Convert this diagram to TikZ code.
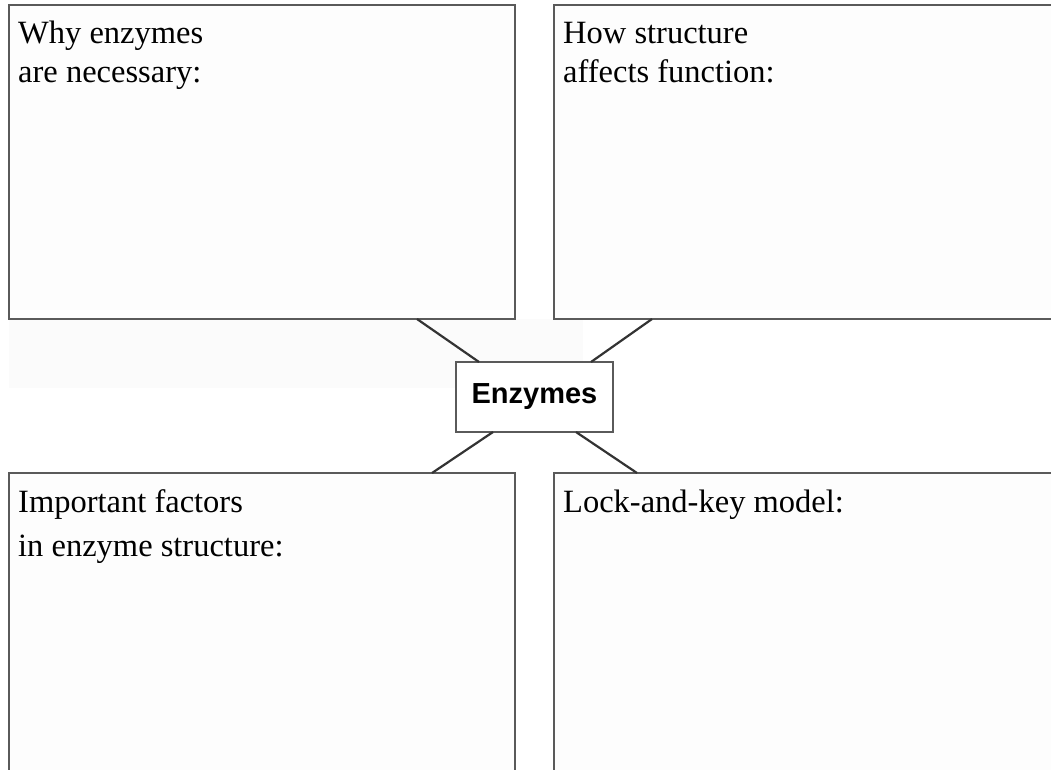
\documentclass[tikz,border=0pt]{standalone}
\usepackage{fontspec}
\setmainfont{Liberation Serif}
\newfontfamily\labsans{Liberation Sans}
\usetikzlibrary{calc}
\definecolor{boxline}{HTML}{5A5A5A}
\definecolor{connline}{HTML}{333333}
\definecolor{boxfill}{HTML}{FDFDFD}
\definecolor{faintbg}{HTML}{FBFBFB}
\tikzset{
  panel/.style={draw=boxline, line width=1.4pt, fill=boxfill, rectangle, inner sep=0pt, outer sep=0pt, anchor=north west},
  lbl/.style={font=\fontsize{32.5}{36}\selectfont, inner sep=0pt, anchor=base west, text=black},
  centre/.style={draw=boxline, line width=1.4pt, fill=white, rectangle, inner sep=0pt, outer sep=0pt, minimum width=157pt, minimum height=70pt, font=\labsans\bfseries\fontsize{29}{32}\selectfont},
  conn/.style={draw=connline, line width=2.2pt}
}
\begin{document}
\begin{tikzpicture}[x=1pt,y=-1pt]
\useasboundingbox (0,0) rectangle (1051,769);
\clip (0,0) rectangle (1051,769);
\fill[faintbg] (9,319) rectangle (583,388);
\node[panel, minimum width=506pt, minimum height=314pt] (tl) at (9,5) {};
\node[panel, minimum width=510pt, minimum height=314pt] (tr) at (554,5) {};
\node[panel, minimum width=506pt, minimum height=320pt] (bl) at (9,473) {};
\node[panel, minimum width=510pt, minimum height=320pt] (br) at (554,473) {};
\node[centre] (enz) at (534.5,397) {Enzymes};
\node[lbl] (tl1) at (18,43) {Why enzymes};
\node[lbl] (tl2) at (18,82) {are necessary:};
\node[lbl] (tr1) at (563,43) {How structure};
\node[lbl] (tr2) at (563,82) {affects function:};
\node[lbl] (bl1) at (18,512) {Important factors};
\node[lbl] (bl2) at (18,556) {in enzyme structure:};
\node[lbl] (br1) at (563,512) {Lock-and-key model:};
\draw[conn] ($(tl.south east)+(-98,0)$) -- ($(enz.north west)+(23,0)$);
\draw[conn] ($(tr.south west)+(98,0)$) -- ($(enz.north east)+(-22,0)$);
\draw[conn] ($(bl.north east)+(-83,0)$) -- ($(enz.south west)+(37,0)$);
\draw[conn] ($(br.north west)+(83,0)$) -- ($(enz.south east)+(-37,0)$);
\end{tikzpicture}
\end{document}
